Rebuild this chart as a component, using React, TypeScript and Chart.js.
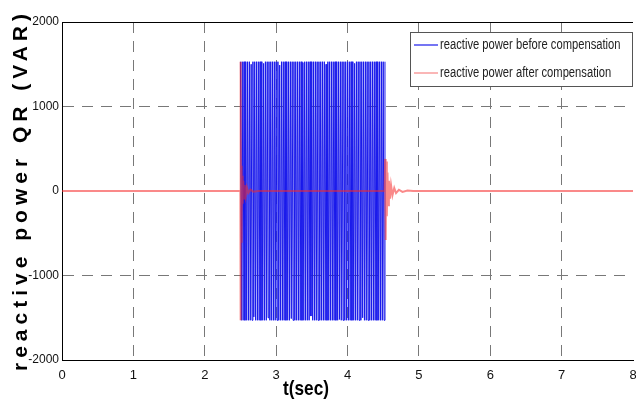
import React, { useEffect, useRef } from "react";
import { Chart, registerables } from "chart.js";
Chart.register(...registerables);

const xTickValues = [0, 1, 2, 3, 4, 5, 6, 7, 8];
const yTickValues = [-2000, -1000, 0, 1000, 2000];
const seriesLabels = [
  "reactive power before compensation",
  "reactive power after compensation",
];
const xTitle = "t(sec)";
const yTitle = "reactive power QR (VAR)";

// blue: sampled oscillation between t=2.5 and ~4.525 s
const blueStart = 2.5;
const blueStep = 0.0125;
const blueValues = [
  1530, -1530, 1530, -1530, 1530, -1530, 1530, -1530, 1530, -1530,
  1530, -1530, 1500, -1530, 1530, -1490, 1530, -1530, 1530, -1530,
  1530, -1530, 1530, -1530, 1530, -1530, 1510, -1530, 1530, -1530,
  1530, -1500, 1530, -1530, 1530, -1530, 1530, -1530, 1530, -1530,
  1530, -1530, 1530, -1530, 1490, -1530, 1530, -1530, 1530, -1530,
  1530, -1530, 1530, -1530, 1530, -1530, 1530, -1510, 1530, -1530,
  1530, -1530, 1530, -1530, 1530, -1530, 1530, -1530, 1530, -1530,
  1520, -1530, 1530, -1530, 1530, -1530, 1530, -1530, 1530, -1480,
  1530, -1530, 1530, -1530, 1530, -1530, 1530, -1530, 1530, -1530,
  1530, -1530, 1530, -1530, 1530, -1530, 1500, -1530, 1530, -1530,
  1530, -1530, 1530, -1530, 1530, -1530, 1530, -1530, 1530, -1530,
  1530, -1520, 1530, -1530, 1530, -1530, 1530, -1530, 1530, -1530,
  1530, -1530, 1530, -1530, 1530, -1530, 1530, -1530, 1510, -1530,
  1530, -1530, 1530, -1530, 1530, -1530, 1530, -1500, 1530, -1530,
  1530, -1530, 1530, -1530, 1530, -1530, 1530, -1530, 1530, -1530,
  1530, -1530, 1530, -1530, 1530, -1530, 1530, -1530, 1530, -1530,
  1530, -1530, 1530,
];

// red: compensated signal with transients at switching instants
const redT = [
  0, 2.499, 2.5, 2.503, 2.506, 2.51, 2.514, 2.518, 2.523, 2.53, 2.54, 2.55,
  2.56, 2.575, 2.59, 2.61, 2.64, 2.68, 2.75, 4.52, 4.527, 4.535, 4.543, 4.551,
  4.56, 4.57, 4.58, 4.595, 4.61, 4.63, 4.655, 4.68, 4.72, 4.77, 4.84, 4.92, 8,
];
const redV = [
  0, 0, 1530, -1530, 650, -600, 300, -280, 180, -150, 120, -90, 70, -50, 40,
  -25, 15, -8, 0, 0, 380, -580, 350, -300, 220, -170, 120, -90, 70, -50, 35,
  -25, 15, -10, 5, 0, 0,
];

const FONT_SANS = "'Liberation Sans', Arial, sans-serif";
const BLUE = "rgb(25,25,235)";
const RED = "rgba(245,40,40,0.55)";

const decorPlugin = {
  id: "decor",
  afterDatasetsDraw(chart: any) {
    const { ctx, chartArea } = chart;
    ctx.save();
    // top frame line
    ctx.strokeStyle = "#000";
    ctx.lineWidth = 1;
    ctx.beginPath();
    ctx.moveTo(chartArea.left, chartArea.top + 0.5);
    ctx.lineTo(chartArea.right, chartArea.top + 0.5);
    ctx.stroke();

    // legend box
    const bx = 410.5, by = 32.5, bw = 222, bh = 54;
    ctx.fillStyle = "#fff";
    ctx.fillRect(bx, by, bw, bh);
    ctx.strokeStyle = "#555";
    ctx.strokeRect(bx, by, bw, bh);
    const colors = [BLUE, "rgba(245,120,120,0.9)"];
    const rows = [45, 73];
    seriesLabels.forEach((lab, i) => {
      ctx.strokeStyle = colors[i];
      ctx.lineWidth = 1.2;
      ctx.beginPath();
      ctx.moveTo(414, rows[i]);
      ctx.lineTo(438, rows[i]);
      ctx.stroke();
      ctx.save();
      ctx.translate(440, rows[i]);
      ctx.scale(0.8, 1);
      ctx.font = `14px ${FONT_SANS}`;
      ctx.textBaseline = "middle";
      ctx.textAlign = "left";
      ctx.fillStyle = "#222";
      ctx.fillText(lab, 0, 0);
      ctx.restore();
    });

    // x title
    ctx.save();
    ctx.translate(306, 389);
    ctx.scale(0.82, 1);
    ctx.font = `bold 21px ${FONT_SANS}`;
    ctx.fillStyle = "#000";
    ctx.textAlign = "center";
    ctx.textBaseline = "middle";
    ctx.fillText(xTitle, 0, 0);
    ctx.restore();

    // y title
    ctx.translate(21, 192);
    ctx.rotate(-Math.PI / 2);
    (ctx as any).letterSpacing = "5px";
    ctx.font = `bold 21px ${FONT_SANS}`;
    ctx.fillStyle = "#000";
    ctx.textAlign = "center";
    ctx.textBaseline = "middle";
    ctx.fillText(yTitle, 2, 0);
    ctx.restore();
  },
};

export default function App() {
  const ref = useRef<HTMLCanvasElement>(null);
  useEffect(() => {
    if (!ref.current) return;
    const blueData = blueValues.map((v, i) => ({ x: blueStart + i * blueStep, y: v }));
    const redData = redT.map((t, i) => ({ x: t, y: redV[i] }));
    const chart = new Chart(ref.current, {
      type: "line",
      data: {
        datasets: [
          {
            label: seriesLabels[0],
            data: blueData,
            borderColor: BLUE,
            borderWidth: 1,
            pointRadius: 0,
            tension: 0,
            order: 2,
          },
          {
            label: seriesLabels[1],
            data: redData,
            borderColor: RED,
            borderWidth: 2,
            pointRadius: 0,
            tension: 0,
            order: 1,
          },
        ],
      },
      plugins: [decorPlugin],
      options: {
        responsive: false,
        animation: false,
        devicePixelRatio: 1,
        layout: { padding: { top: 22, right: 3, left: 0, bottom: 0 } },
        plugins: { legend: { display: false }, tooltip: { enabled: false } },
        scales: {
          x: {
            type: "linear",
            min: 0,
            max: 8,
            afterBuildTicks: (s: any) => {
              s.ticks = xTickValues.map((v) => ({ value: v }));
            },
            afterFit: (s: any) => {
              s.height = 42;
              s.paddingLeft = 0;
              s.paddingRight = 0;
            },
            ticks: {
              padding: 8,
              color: "#111",
              font: { family: FONT_SANS, size: 13 },
              maxRotation: 0,
              autoSkip: false,
              callback: (v: any) => String(v),
            },
            grid: {
              drawTicks: false,
              color: (c: any) =>
                c.tick && (c.tick.value === 0 || c.tick.value === 8) ? "rgba(0,0,0,0)" : "rgb(120,120,120)",
              lineWidth: 1,
            },
            border: { display: true, color: "#000", width: 1, dash: [11, 8] },
          },
          y: {
            type: "linear",
            min: -2000,
            max: 2000,
            afterBuildTicks: (s: any) => {
              s.ticks = yTickValues.map((v) => ({ value: v }));
            },
            afterFit: (s: any) => {
              s.width = 62;
            },
            ticks: {
              padding: 3,
              color: "#111",
              font: { family: FONT_SANS, size: 12 },
              autoSkip: false,
              callback: (v: any) => String(v),
            },
            grid: {
              drawTicks: false,
              color: (c: any) =>
                c.tick && Math.abs(c.tick.value) === 1000 ? "rgb(120,120,120)" : "rgba(0,0,0,0)",
              lineWidth: 1,
            },
            border: { display: true, color: "#000", width: 1, dash: [11, 8] },
          },
        },
      },
    });
    return () => chart.destroy();
  }, []);
  return (
    <div style={{ position: "fixed", left: 0, top: 0, width: 636, height: 402, background: "#fff" }}>
      <canvas ref={ref} width={636} height={402} style={{ display: "block" }} />
    </div>
  );
}
